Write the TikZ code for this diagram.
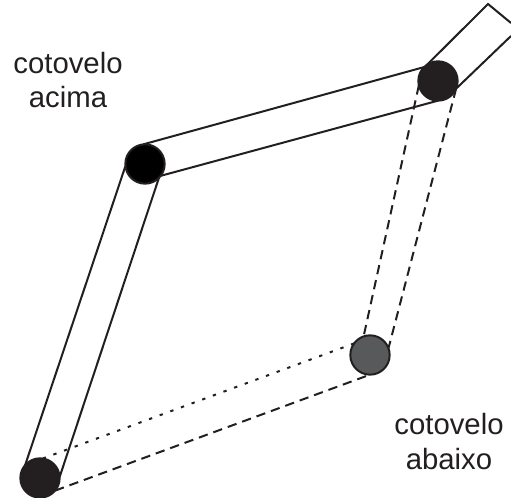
\documentclass[tikz,border=0pt]{standalone}
\usepackage{fontspec}
\setmainfont{Liberation Sans}
\definecolor{inkdark}{HTML}{231F20}
\definecolor{jointgray}{HTML}{58595B}
\tikzset{
	joint/.style={circle, draw=inkdark, line width=1.5pt, minimum size=29.5pt, inner sep=0pt, outer sep=0pt},
	link/.style={draw=inkdark, line width=1.5pt},
	linkdash/.style={link, dash pattern=on 7pt off 4.5pt},
	linkdot/.style={link, dash pattern=on 2.5pt off 6pt},
	caption/.style={align=center, text=inkdark, font=\fontsize{22}{26}\selectfont}
}
\begin{document}
\begin{tikzpicture}[x=0.75pt,y=-0.75pt]
\useasboundingbox (0,0) rectangle (511,498);

\node [joint, fill=black] (elbowup) at (145,164) {};
\node [joint, fill=inkdark] (wrist) at (438,81) {};
\node [joint, fill=jointgray] (elbowdown) at (370,355) {};
\node [joint, fill=inkdark] (base) at (40,478) {};

\coordinate (tipa) at (488,4);
\coordinate (tipb) at (511,23);
\coordinate (tipc) at (511,36);

% cotovelo acima
\draw [link] (base.139) -- (elbowup.186);
\draw [link] (base.3) -- (elbowup.-45);
\draw [link] (elbowup.96) -- (wrist.135);
\draw [link] (elbowup.-37) -- (wrist.-90);

% ponta
\draw [link] (wrist.123) -- (tipa) -- (tipb);
\draw [link] (wrist.-23) -- (tipc);

% cotovelo abaixo
\draw [linkdot] (base.82) -- (elbowdown.144);
\draw [linkdash] (base.-40) -- (elbowdown.-90);
\draw [linkdash] (wrist.193) -- (elbowdown.109);
\draw [linkdash] (wrist.-23) -- (elbowdown.20);

\node [caption] (labelup) at (68,80) {cotovelo\\acima};
\node [caption] (labeldown) at (449,441.5) {cotovelo\\abaixo};
\end{tikzpicture}
\end{document}
